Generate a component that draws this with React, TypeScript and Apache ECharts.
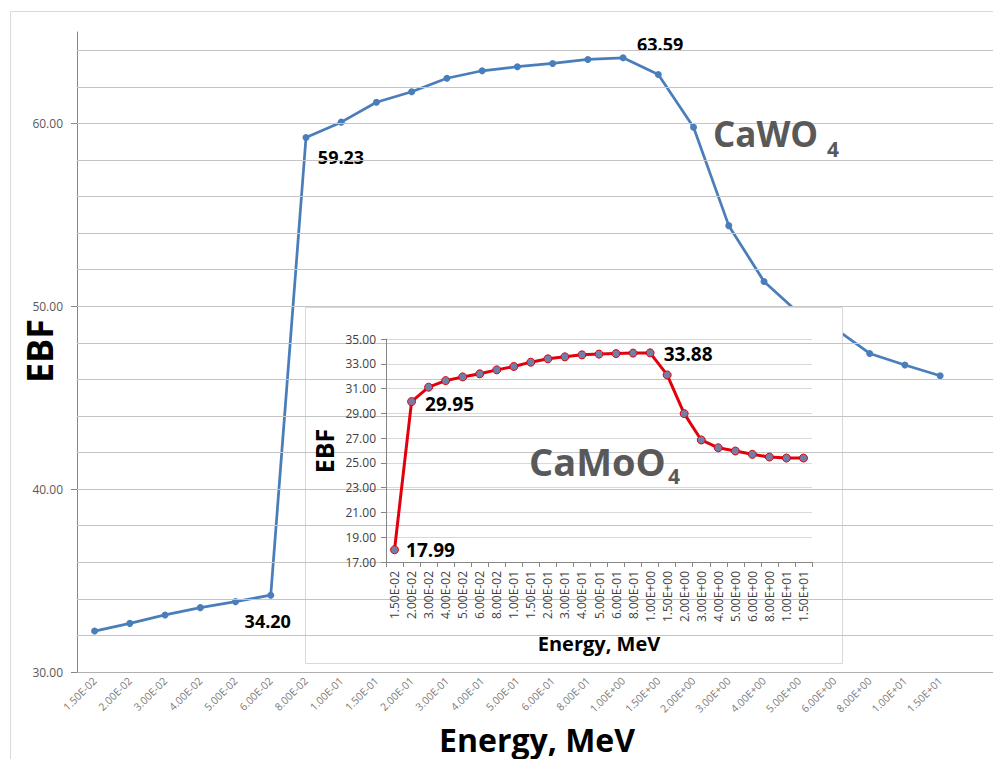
import React, { useEffect, useRef } from "react";
import * as echarts from "echarts";

const categories = [
  "1.50E-02", "2.00E-02", "3.00E-02", "4.00E-02", "5.00E-02", "6.00E-02", "8.00E-02",
  "1.00E-01", "1.50E-01", "2.00E-01", "3.00E-01", "4.00E-01", "5.00E-01", "6.00E-01", "8.00E-01",
  "1.00E+00", "1.50E+00", "2.00E+00", "3.00E+00", "4.00E+00", "5.00E+00", "6.00E+00", "8.00E+00",
  "1.00E+01", "1.50E+01",
];

const cawo4 = [
  32.24, 32.66, 33.12, 33.52, 33.85, 34.2, 59.23, 60.07, 61.16, 61.73, 62.47, 62.88, 63.1,
  63.28, 63.5, 63.59, 62.68, 59.79, 54.41, 51.36, 49.6, 48.81, 47.42, 46.79, 46.2,
];

const camoo4 = [
  17.99, 29.95, 31.11, 31.64, 31.94, 32.19, 32.51, 32.78, 33.13, 33.4, 33.56, 33.72, 33.78,
  33.82, 33.86, 33.88, 32.1, 28.98, 26.85, 26.22, 25.96, 25.69, 25.47, 25.39, 25.39,
];

const mainYTicks = [30, 40, 50, 60];
const mainGridLines = [32, 34, 36, 38, 40, 42, 44, 46, 48, 50, 52, 54, 56, 58, 60, 62, 64];
const insetYTicks = [17, 19, 21, 23, 25, 27, 29, 31, 33, 35];

const FONT = "'Open Sans', 'Noto Sans', sans-serif";

// labelled points: index -> label offset
const mainLabels: Record<number, [number, number]> = { 5: [-3, 26], 6: [35, 19], 15: [37, -14] };
const insetLabels: Record<number, [number, number]> = { 0: [36, 0], 1: [38, 2], 15: [38, 1] };

function textEl(text: string, x: number, y: number, font: string, fill: string, align: string, rotation = 0) {
  return {
    type: "text",
    z: 20,
    x,
    y,
    rotation,
    silent: true,
    style: {
      text,
      font,
      fill,
      textAlign: align,
      textVerticalAlign: "middle",
      align,
      verticalAlign: "middle",
    },
  };
}

export default function App() {
  const ref = useRef<HTMLDivElement>(null);
  useEffect(() => {
    if (!ref.current) return;
    const chart = echarts.init(ref.current, null, { renderer: "svg" });

    const labelFor = (off: [number, number], size: number) => ({
      show: true,
      position: "inside",
      offset: off,
      formatter: (p: any) => Number(p.value).toFixed(2),
      fontFamily: FONT,
      fontWeight: "bold",
      fontSize: size,
      color: "#000",
    });

    const mainData = cawo4.map((v, i) =>
      mainLabels[i] ? { value: v, label: labelFor(mainLabels[i], 18) } : v
    );
    const insetData = camoo4.map((v, i) =>
      insetLabels[i] ? { value: v, label: labelFor(insetLabels[i], 19) } : v
    );

    const option: any = {
      animation: false,
      backgroundColor: "#ffffff",
      grid: [
        { left: 77, top: 32, right: 0, bottom: 87, containLabel: false },
        { left: 386, top: 339, width: 426, height: 223, containLabel: false },
      ],
      xAxis: [
        {
          type: "category",
          gridIndex: 0,
          data: categories,
          max: categories.length,
          boundaryGap: true,
          axisLine: { show: true, lineStyle: { color: "#b0b0b0", width: 1 } },
          axisTick: { show: false },
          axisLabel: {
            interval: 0,
            rotate: 45,
            margin: 7,
            fontSize: 10.5,
            color: "#7a7a7a",
            fontFamily: FONT,
          },
          splitLine: { show: false },
        },
        {
          type: "category",
          gridIndex: 1,
          data: categories,
          boundaryGap: true,
          z: 10,
          axisLine: { show: true, lineStyle: { color: "#868686", width: 1 } },
          axisTick: { show: true, length: 5, lineStyle: { color: "#868686" } },
          axisLabel: {
            interval: 0,
            rotate: 90,
            margin: 9,
            fontSize: 12,
            color: "#404040",
            fontFamily: FONT,
          },
          splitLine: { show: false },
        },
      ],
      yAxis: [
        {
          type: "value",
          gridIndex: 0,
          min: 30,
          max: 65,
          interval: 2,
          axisLine: { show: true, lineStyle: { color: "#868686", width: 1 } },
          axisTick: { show: true, length: 6, customValues: mainYTicks, lineStyle: { color: "#868686" } },
          axisLabel: {
            customValues: mainYTicks,
            formatter: (v: number) => v.toFixed(2),
            margin: 14,
            fontSize: 12,
            color: "#595959",
            fontFamily: FONT,
          },
          splitLine: { show: false },
        },
        {
          type: "value",
          gridIndex: 1,
          min: 17,
          max: 35,
          z: 10,
          axisLine: { show: true, lineStyle: { color: "#868686", width: 1 } },
          axisTick: { show: true, length: 5, customValues: insetYTicks, lineStyle: { color: "#868686" } },
          axisLabel: {
            customValues: insetYTicks,
            formatter: (v: number) => v.toFixed(2),
            margin: 10,
            fontSize: 12,
            color: "#404040",
            fontFamily: FONT,
          },
          splitLine: { show: true, lineStyle: { color: "#d9d9d9", width: 1 } },
        },
      ],
      series: [
        {
          type: "line",
          name: "mainGrid",
          xAxisIndex: 0,
          yAxisIndex: 0,
          data: [],
          z: 1,
          silent: true,
          markLine: {
            silent: true,
            symbol: "none",
            label: { show: false },
            lineStyle: { color: "#c4c4c4", type: "solid", width: 1 },
            emphasis: { disabled: true },
            data: mainGridLines.map((v) => ({ yAxis: v })),
          },
        },
        {
          type: "line",
          name: "CaWO4",
          xAxisIndex: 0,
          yAxisIndex: 0,
          data: mainData,
          z: 2,
          symbol: "circle",
          symbolSize: 7,
          lineStyle: { color: "#4a7ebb", width: 2.75 },
          itemStyle: { color: "#4a7ebb" },
          emphasis: { disabled: true },
        },
        {
          type: "line",
          name: "CaMoO4",
          xAxisIndex: 1,
          yAxisIndex: 1,
          data: insetData,
          z: 12,
          symbol: "circle",
          symbolSize: 8,
          lineStyle: { color: "#e3000b", width: 3 },
          itemStyle: { color: "#6f7fa8", borderColor: "#e3000b", borderWidth: 1 },
          emphasis: { disabled: true },
        },
      ],
      graphic: [
        {
          type: "rect",
          z: 0,
          silent: true,
          shape: { x: 10.5, y: 11.5, width: 1000, height: 800 },
          style: { fill: "none", stroke: "#dadada", lineWidth: 1 },
        },
        {
          type: "rect",
          z: 5,
          silent: true,
          shape: { x: 305.5, y: 307.5, width: 537, height: 356 },
          style: { fill: "#ffffff", stroke: "#d9d9d9", lineWidth: 1 },
        },
        textEl("EBF", 39, 351, `bold 36px ${FONT}`, "#000", "center", Math.PI / 2),
        textEl("Energy, MeV", 537, 739, `bold 32px ${FONT}`, "#000", "center"),
        textEl("EBF", 324, 451, `bold 25px ${FONT}`, "#000", "center", Math.PI / 2),
        textEl("Energy, MeV", 599, 643, `bold 20px ${FONT}`, "#000", "center"),
        textEl("CaWO", 713, 133, `bold 35px ${FONT}`, "#595959", "left"),
        textEl("4", 827, 149, `bold 21px ${FONT}`, "#595959", "left"),
        textEl("CaMoO", 529, 461, `bold 38px ${FONT}`, "#595959", "left"),
        textEl("4", 668, 476, `bold 21px ${FONT}`, "#595959", "left"),
      ],
    };

    chart.setOption(option);
    return () => chart.dispose();
  }, []);

  return (
    <div
      ref={ref}
      style={{ position: "fixed", left: 0, top: 0, width: 993, height: 759, background: "#fff" }}
    />
  );
}
